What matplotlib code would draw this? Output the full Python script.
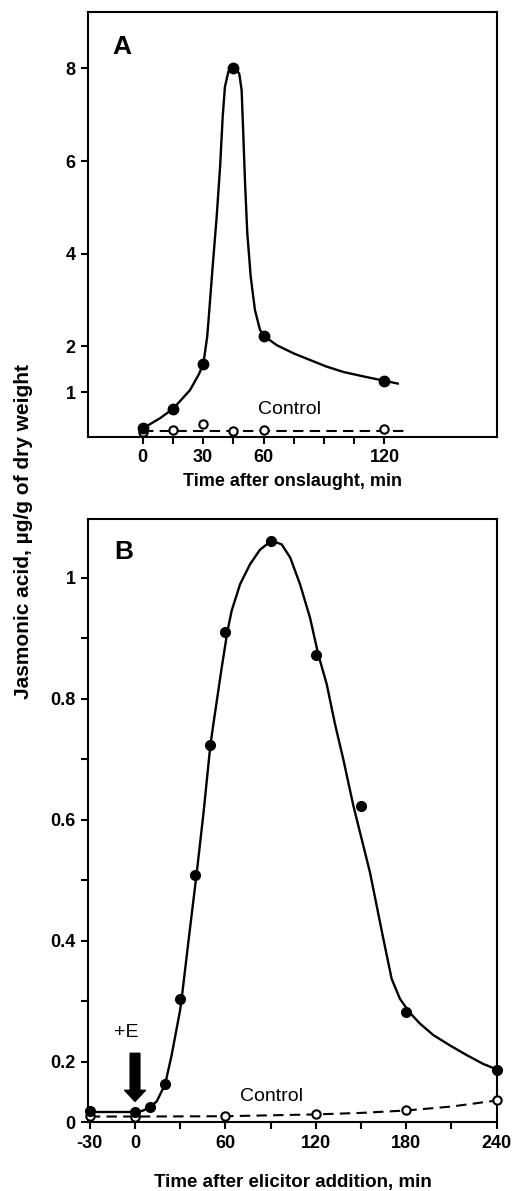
import numpy as np
import matplotlib
matplotlib.use("Agg")
import matplotlib.pyplot as plt

plt.rcParams['font.family'] = ['Liberation Sans', 'DejaVu Sans']

# Panel A: wounding (onslaught)
a_time = [0, 15, 30, 45, 60, 120]
a_ja = [0.22, 0.65, 1.61, 8.0, 2.22, 1.25]
a_ctrl = [0.15, 0.19, 0.32, 0.16, 0.19, 0.20]
# hand drawn curve
a_curve_t = [0, 8.6, 15.2, 23.5, 28, 30.1, 32.0, 32.8, 34.7, 36.7, 38.4, 39.7, 40.8, 42.5,
             45.5, 47.9, 49.1, 49.9, 50.8, 51.9, 53.6, 55.7, 58.2, 60.2, 66.5, 75, 83,
             91, 99.6, 110, 119.8, 126.6]
a_curve_v = [0.22, 0.44, 0.65, 1.05, 1.4, 1.62, 2.2, 2.63, 3.71, 4.79, 5.87, 6.96, 7.6, 7.93,
             8.04, 7.89, 7.53, 6.6, 5.52, 4.44, 3.5, 2.78, 2.35, 2.22, 2.02, 1.84, 1.70,
             1.56, 1.44, 1.34, 1.25, 1.19]
a_ctrl_line_t = [0, 132]
a_ctrl_line_v = [0.17, 0.17]

# Panel B: elicitor
b_time = [-30, 0, 10, 20, 30, 40, 50, 60, 90, 120, 150, 180, 240]
b_ja = [0.037, 0.035, 0.05, 0.127, 0.303, 0.509, 0.723, 0.91, 1.06, 0.872, 0.623, 0.282, 0.174]
b_curve_t = [-30, 0, 5, 10, 14.4, 20, 24.3, 29.9, 30.9, 35.4, 40.8, 45.4, 50, 52, 57.5, 61.3,
             64.1, 69.7, 76.3, 82.9, 88.5, 90.7, 97.3, 103, 109.5, 116.1, 121.6, 127.2,
             132.7, 138.2, 144.9, 155.9, 164.8, 170.3, 175.8, 182, 189.1, 198, 209, 220.1,
             231, 240.4]
b_curve_v = [0.034, 0.034, 0.038, 0.05, 0.069, 0.126, 0.211, 0.285, 0.303, 0.398, 0.509, 0.61,
             0.723, 0.758, 0.851, 0.911, 0.945, 0.989, 1.022, 1.046, 1.057, 1.061, 1.055,
             1.033, 0.989, 0.934, 0.873, 0.824, 0.758, 0.70, 0.623, 0.513, 0.403, 0.337,
             0.304, 0.282, 0.263, 0.244, 0.227, 0.211, 0.193, 0.174]
b_ctrl_t = [-30, 0, 60, 120, 180, 240]
b_ctrl = [0.02, 0.019, 0.021, 0.026, 0.039, 0.072]
b_ctrl_line_t = [-30, 0, 60, 120, 150, 180, 210, 240]
b_ctrl_line_v = [0.019, 0.019, 0.02, 0.026, 0.031, 0.039, 0.052, 0.072]

a_xticks = [0, 15, 30, 45, 60, 75, 90, 105, 120]
a_xlabels = ['0', '', '30', '', '60', '', '', '', '120']
a_yticks = [1, 2, 4, 6, 8]
b_xticks = [-30, 0, 30, 60, 90, 120, 150, 180, 210, 240]
b_xlabels = ['-30', '0', '', '60', '', '120', '', '180', '', '240']
b_yticks = [0, 0.2, 0.3, 0.4, 0.5, 0.6, 0.7, 0.8, 0.9, 1.0]
b_ylabels = ['0', '0.2', '', '0.4', '', '0.6', '', '0.8', '', '1']


def fwd(v):
    v = np.asarray(v, dtype=float)
    return np.where(v < 0.2, 0.1 + v / 2, v)


def inv(u):
    u = np.asarray(u, dtype=float)
    return np.where(u < 0.2, (u - 0.1) * 2, u)


fig = plt.figure(figsize=(5.14, 11.91), dpi=100)
axA = fig.add_axes([0.1718, 0.6331, 0.7942, 0.3568])
axB = fig.add_axes([0.1718, 0.0577, 0.7957, 0.5066])

lw = 1.7
tickfont = dict(fontsize=13, fontweight='bold')

for ax in (axA, axB):
    for s in ax.spines.values():
        s.set_linewidth(1.5)
    ax.tick_params(direction='out', length=5, width=1.5, pad=4, top=False, right=False)

# --- A ---
axA.plot(a_curve_t, a_curve_v, color='k', lw=lw, zorder=2, solid_joinstyle='round')
axA.plot(a_ctrl_line_t, a_ctrl_line_v, color='k', lw=1.5, ls=(0, (5, 3)), zorder=2)
axA.plot(a_time, a_ctrl, 'o', ms=6, mfc='white', mec='k', mew=1.5, zorder=3)
axA.plot(a_time, a_ja, 'o', ms=7.5, color='k', zorder=4)
axA.set_xlim(-27, 175.6)
axA.set_ylim(0.035, 9.22)
axA.set_xticks(a_xticks)
axA.set_xticklabels(a_xlabels, **tickfont)
axA.set_yticks(a_yticks)
axA.set_yticklabels([str(t) for t in a_yticks], **tickfont)
axA.set_xlabel('Time after onslaught, min', fontsize=13, fontweight='bold', labelpad=5)
axA.text(0.0826, 0.918, 'A', transform=axA.transAxes, fontsize=19, fontweight='heavy',
         ha='center', va='center')
axA.text(73, 0.62, 'Control', fontsize=14, ha='center', va='center')

# --- B ---
axB.set_yscale('function', functions=(fwd, inv))
axB.plot(b_curve_t, b_curve_v, color='k', lw=lw, zorder=2, solid_joinstyle='round')
axB.plot(b_ctrl_line_t, b_ctrl_line_v, color='k', lw=1.5, ls=(0, (5, 3)), zorder=2)
axB.plot(b_ctrl_t, b_ctrl, 'o', ms=6, mfc='white', mec='k', mew=1.5, zorder=3, clip_on=False)
axB.plot(b_time, b_ja, 'o', ms=7, color='k', zorder=4, clip_on=False)
axB.set_xlim(-31, 240.4)
axB.set_ylim(0, 1.097)
axB.set_xticks(b_xticks)
axB.set_xticklabels(b_xlabels, **tickfont)
axB.set_yticks(b_yticks)
axB.set_yticklabels(b_ylabels, **tickfont)
axB.minorticks_off()
axB.set_xlabel('Time after elicitor addition, min', fontsize=13.5, fontweight='bold', labelpad=16)
axB.text(0.087, 0.946, 'B', transform=axB.transAxes, fontsize=19, fontweight='heavy',
         ha='center', va='center')
axB.text(90.7, 0.086, 'Control', fontsize=14, ha='center', va='center')
axB.text(-6, 0.248, '+E', fontsize=14, ha='center', va='center')
axB.annotate('', xy=(0, 0.069), xytext=(0, 0.214),
             arrowprops=dict(width=7, headwidth=15, headlength=8, facecolor='k',
                             edgecolor='k', shrink=0))

fig.text(0.045, 1 - 531.7 / 1191, 'Jasmonic acid, \u00b5g/g of dry weight', rotation=90,
         fontsize=15, fontweight='bold', ha='center', va='center')

fig.savefig('out.png', dpi=100)
